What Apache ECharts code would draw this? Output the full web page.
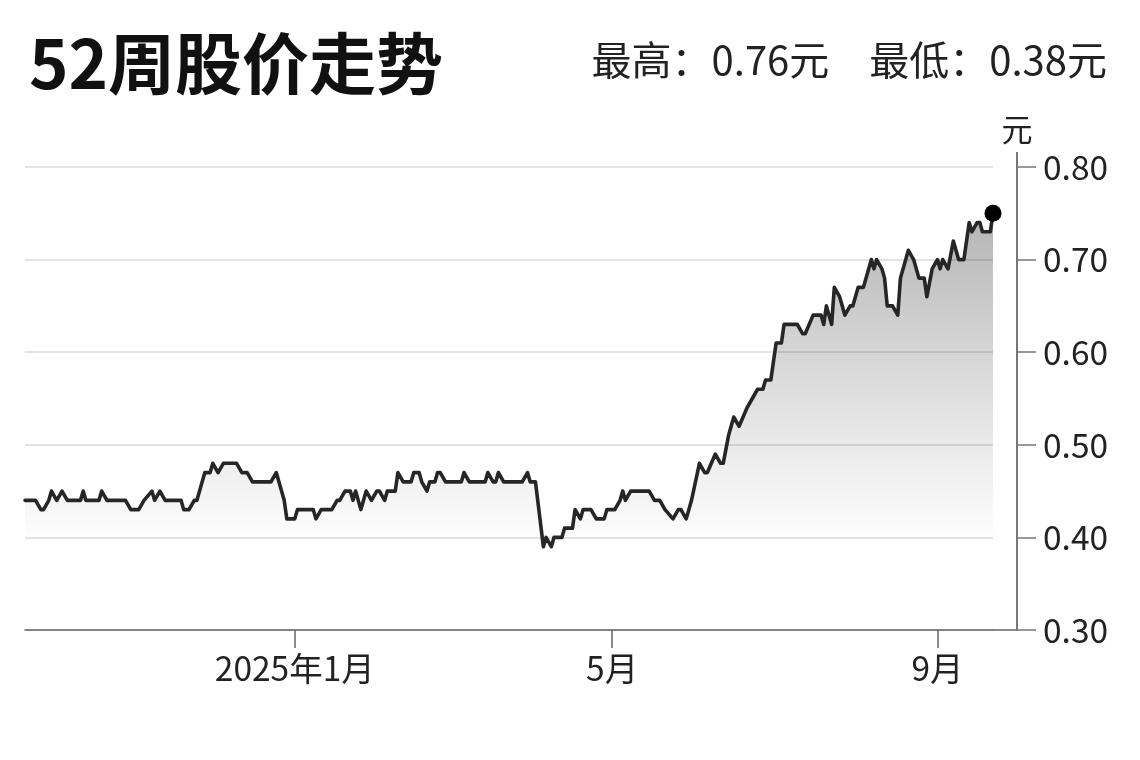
<!DOCTYPE html>
<html>
<head>
<meta charset="utf-8">
<script src="https://cdn.jsdelivr.net/npm/echarts@6/dist/echarts.min.js"></script>
<style>
html,body{margin:0;padding:0;background:#fff;}
#c{width:1140px;height:760px;}
</style>
</head>
<body>
<div id="c"></div>
<script>
// ---- data ----
const titleText = '52周股价走势';
const summaryText = '最高：0.76元　最低：0.38元';
const unitText = '元';
const xStart = '2024-09-21';
const xEnd = '2025-09-22';
const xTickDates = ['2025-01-01', '2025-05-01', '2025-09-01'];
const xTickLabels = ['2025年1月', '5月', '9月'];
const yMin = 0.3, yMax = 0.8, yStep = 0.1;

const dates = [
'2024-09-21','2024-09-25','2024-09-27','2024-09-28','2024-09-30','2024-10-01','2024-10-03','2024-10-05','2024-10-07','2024-10-12',
'2024-10-13','2024-10-14','2024-10-19','2024-10-20','2024-10-22','2024-10-29','2024-10-31','2024-11-03','2024-11-05','2024-11-08',
'2024-11-09','2024-11-11','2024-11-13','2024-11-19','2024-11-20','2024-11-22','2024-11-24','2024-11-25','2024-11-28','2024-11-30',
'2024-12-01','2024-12-03','2024-12-05','2024-12-10','2024-12-12','2024-12-14','2024-12-16','2024-12-23','2024-12-25','2024-12-26',
'2024-12-28','2024-12-29','2025-01-01','2025-01-02','2025-01-08','2025-01-09','2025-01-11','2025-01-15','2025-01-17','2025-01-18',
'2025-01-20','2025-01-22','2025-01-23','2025-01-24','2025-01-26','2025-01-27','2025-01-28','2025-01-30','2025-02-01','2025-02-02',
'2025-02-04','2025-02-05','2025-02-08','2025-02-09','2025-02-11','2025-02-14','2025-02-15','2025-02-17','2025-02-18','2025-02-20',
'2025-02-21','2025-02-23','2025-02-24','2025-02-25','2025-02-27','2025-03-05','2025-03-06','2025-03-08','2025-03-14','2025-03-15',
'2025-03-17','2025-03-18','2025-03-19','2025-03-21','2025-03-28','2025-03-30','2025-03-31','2025-04-02','2025-04-05','2025-04-06',
'2025-04-08','2025-04-09','2025-04-12','2025-04-13','2025-04-16','2025-04-17','2025-04-19','2025-04-20','2025-04-23','2025-04-25',
'2025-04-28','2025-04-29','2025-05-02','2025-05-04','2025-05-05','2025-05-06','2025-05-08','2025-05-15','2025-05-17','2025-05-19',
'2025-05-21','2025-05-24','2025-05-26','2025-05-27','2025-05-29','2025-05-30','2025-05-31','2025-06-03','2025-06-05','2025-06-06',
'2025-06-09','2025-06-11','2025-06-12','2025-06-14','2025-06-16','2025-06-18','2025-06-21','2025-06-25','2025-06-27','2025-06-28',
'2025-06-30','2025-07-02','2025-07-03','2025-07-04','2025-07-05','2025-07-10','2025-07-12','2025-07-13','2025-07-16','2025-07-19',
'2025-07-20','2025-07-21','2025-07-23','2025-07-24','2025-07-26','2025-07-28','2025-07-30','2025-07-31','2025-08-02','2025-08-04',
'2025-08-07','2025-08-08','2025-08-09','2025-08-11','2025-08-12','2025-08-13','2025-08-15','2025-08-17','2025-08-18','2025-08-21',
'2025-08-23','2025-08-25','2025-08-27','2025-08-28','2025-08-30','2025-09-01','2025-09-02','2025-09-03','2025-09-05','2025-09-07',
'2025-09-09','2025-09-11','2025-09-13','2025-09-14','2025-09-16','2025-09-17','2025-09-18','2025-09-21','2025-09-22'
];
const prices = [
0.44,0.44,0.43,0.43,0.44,0.45,0.44,0.45,0.44,0.44,
0.45,0.44,0.44,0.45,0.44,0.44,0.43,0.43,0.44,0.45,
0.44,0.45,0.44,0.44,0.43,0.43,0.44,0.44,0.47,0.47,
0.48,0.47,0.48,0.48,0.47,0.47,0.46,0.46,0.47,0.46,
0.44,0.42,0.42,0.43,0.43,0.42,0.43,0.43,0.44,0.44,
0.45,0.45,0.44,0.45,0.43,0.44,0.45,0.44,0.45,0.45,
0.44,0.45,0.45,0.47,0.46,0.46,0.47,0.47,0.46,0.45,
0.46,0.46,0.47,0.47,0.46,0.46,0.47,0.46,0.46,0.47,
0.46,0.46,0.47,0.46,0.46,0.47,0.46,0.46,0.39,0.40,
0.39,0.40,0.40,0.41,0.41,0.43,0.42,0.43,0.43,0.42,
0.42,0.43,0.43,0.44,0.45,0.44,0.45,0.45,0.44,0.44,
0.43,0.42,0.43,0.43,0.42,0.43,0.44,0.48,0.47,0.47,
0.49,0.48,0.48,0.51,0.53,0.52,0.54,0.56,0.56,0.57,
0.57,0.61,0.61,0.61,0.63,0.63,0.62,0.62,0.64,0.64,
0.63,0.65,0.63,0.67,0.66,0.64,0.65,0.65,0.67,0.67,
0.70,0.69,0.70,0.69,0.68,0.65,0.65,0.64,0.68,0.71,
0.70,0.68,0.68,0.66,0.69,0.70,0.69,0.70,0.69,0.72,
0.70,0.70,0.74,0.73,0.74,0.74,0.73,0.73,0.75
];

// ---- chart ----
const FONT = '"Noto Sans CJK SC", "Noto Sans", sans-serif';
function ts(s){ const p = s.split('-').map(Number); return new Date(p[0], p[1]-1, p[2]).getTime(); }
const tickTs = xTickDates.map(ts);
function tickLabel(v){
  let best = 0, bd = Infinity;
  tickTs.forEach((t,i)=>{ const d = Math.abs(t - v); if (d < bd){ bd = d; best = i; } });
  return xTickLabels[best];
}
const seriesData = dates.map((d,i)=>[ts(d), prices[i]]);
const lastPoint = seriesData[seriesData.length-1];

const chart = echarts.init(document.getElementById('c'));
chart.setOption({
  animation: false,
  backgroundColor: '#fff',
  title: [
    { text: titleText, left: 24, top: 25,
      textStyle: { fontFamily: FONT, fontSize: 67, fontWeight: 'bold', color: '#111' } },
    { text: summaryText, right: 28, top: 35,
      textStyle: { fontFamily: FONT, fontSize: 40, fontWeight: 'normal', color: '#222' } }
  ],
  grid: { left: 25, right: 147, top: 167, bottom: 130 },
  xAxis: {
    type: 'value', min: ts(xStart), max: ts(xEnd), scale: true,
    axisLine: { show: true, onZero: false, lineStyle: { color: '#666', width: 1.5 } },
    axisTick: { show: true, customValues: tickTs, length: 18, lineStyle: { color: '#666', width: 1.5 } },
    axisLabel: { customValues: tickTs, formatter: tickLabel, margin: 22,
      fontFamily: FONT, fontSize: 33.5, color: '#222' },
    splitLine: { show: false }
  },
  yAxis: {
    type: 'value', position: 'right', offset: 24,
    min: yMin, max: yMax, interval: yStep,
    name: unitText, nameLocation: 'end', nameGap: 22,
    nameTextStyle: { fontFamily: FONT, fontSize: 31, color: '#222', align: 'center' },
    axisLine: { show: true, lineStyle: { color: '#777', width: 2 } },
    axisTick: { show: true, length: 19, lineStyle: { color: '#777', width: 1.5 } },
    axisLabel: { margin: 26, formatter: v => v.toFixed(2), fontFamily: FONT, fontSize: 33.5, color: '#222' },
    splitLine: { show: true, lineStyle: { color: '#e3e3e3', width: 2 } }
  },
  series: [
    {
      type: 'line', data: seriesData, showSymbol: false, symbol: 'none',
      lineStyle: { color: '#262626', width: 3.6, join: 'round', cap: 'round' },
      areaStyle: {
        color: new echarts.graphic.LinearGradient(0, 0, 0, 1, [
          { offset: 0, color: 'rgba(0,0,0,0.42)' },
          { offset: 0.3, color: 'rgba(0,0,0,0.25)' },
          { offset: 0.55, color: 'rgba(0,0,0,0.12)' },
          { offset: 0.76, color: 'rgba(0,0,0,0.02)' },
          { offset: 0.8, color: 'rgba(0,0,0,0)' },
          { offset: 1, color: 'rgba(0,0,0,0)' }
        ])
      },
      z: 3
    },
    {
      type: 'scatter', data: [lastPoint], symbol: 'circle', symbolSize: 17,
      itemStyle: { color: '#000', opacity: 1 }, z: 4
    }
  ]
});

// extend axis lines to meet (decoration)
const pBR = chart.convertToPixel({ gridIndex: 0 }, [ts(xEnd), yMin]);
const pTR = chart.convertToPixel({ gridIndex: 0 }, [ts(xEnd), yMax]);
const ax = pBR[0] + 24;
chart.setOption({
  graphic: [
    { type: 'line', shape: { x1: pBR[0], y1: pBR[1], x2: ax, y2: pBR[1] },
      style: { stroke: '#666', lineWidth: 1.5 }, silent: true },
    { type: 'line', shape: { x1: ax, y1: pTR[1], x2: ax, y2: pTR[1] - 15 },
      style: { stroke: '#777', lineWidth: 2 }, silent: true }
  ]
});
</script>
</body>
</html>
